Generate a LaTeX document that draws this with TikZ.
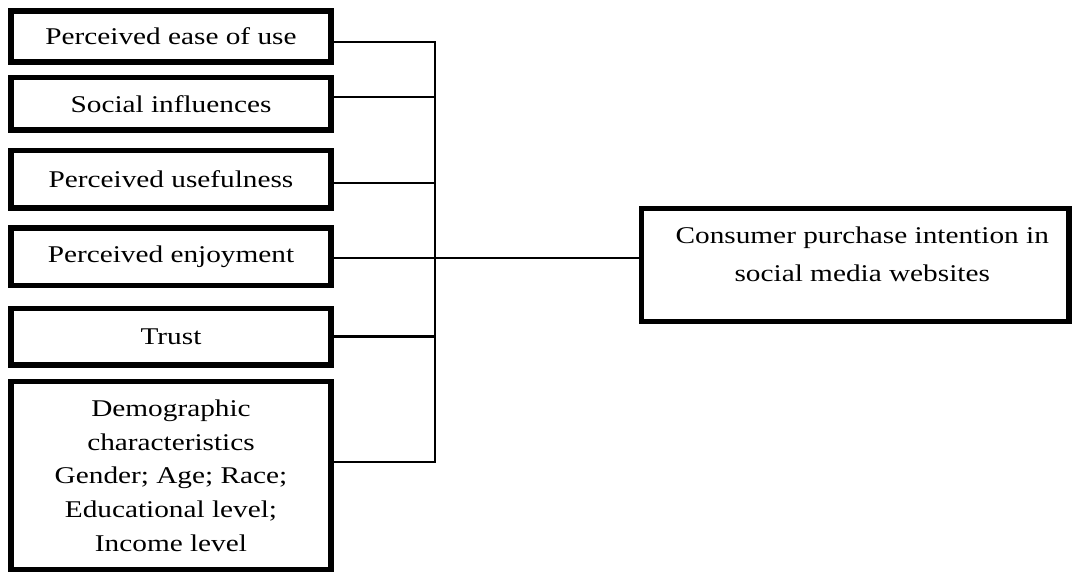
\documentclass[tikz,border=0pt]{standalone}
\usepackage{fontspec}
\setmainfont[FakeStretch=1.22]{Liberation Serif}
\begin{document}
\begin{tikzpicture}[x=1pt,y=-1pt,
  factor/.style={draw, line width=5.5pt, align=center, inner sep=0pt,
    font=\fontsize{24pt}{33.75pt}\selectfont},
  conn/.style={line width=2.6pt}]
\useasboundingbox (0,0) rectangle (1072,572);

% antecedent boxes
\node[factor, minimum width=320pt, minimum height=51pt]   (b1) at (171,36.5)   {Perceived ease of use};
\node[factor, minimum width=320pt, minimum height=52.5pt] (b2) at (171,103.75) {Social influences};
\node[factor, minimum width=320pt, minimum height=57.5pt] (b3) at (171,179.25) {Perceived usefulness};
\node[factor, minimum width=320pt, minimum height=57.5pt] (b4) at (171,256.75) {Perceived enjoyment};
\node[factor, minimum width=320pt, minimum height=56.5pt] (b5) at (171,336.75) {Trust};
\node[factor, minimum width=320pt, minimum height=188.5pt] (b6) at (171,475.75)
  {Demographic\\characteristics\\Gender; Age; Race;\\Educational level;\\Income level};

% outcome box
\node[factor, minimum width=427.5pt, minimum height=113pt] (c) at (855.25,265) {};
\node[font=\fontsize{24pt}{38pt}\selectfont, align=center, inner sep=0pt] (ct)
  at ([xshift=7pt,yshift=11pt]c.center) {Consumer purchase intention in\\social media websites};

% bus connecting the factors
\coordinate (bt) at (435,42);
\coordinate (bb) at (435,462);
\coordinate (bm) at (435,258);
\draw[conn] ([yshift=-5.5pt]b1.east) -- (bt) -- (bb) -- ([yshift=13.75pt]b6.east);
\draw[conn] ([yshift=6.75pt]b2.east) coordinate (s2) -- (s2 -| bt);
\draw[conn] ([yshift=-3.75pt]b3.east) coordinate (s3) -- (s3 -| bt);
\draw[conn] ([yshift=-1.25pt]b4.east) coordinate (s4) -- (s4 -| bt);
\draw[conn] (b5.east) coordinate (s5) -- (s5 -| bt);
\draw[conn] (bm) -- ([yshift=7pt]c.west);
\end{tikzpicture}
\end{document}
